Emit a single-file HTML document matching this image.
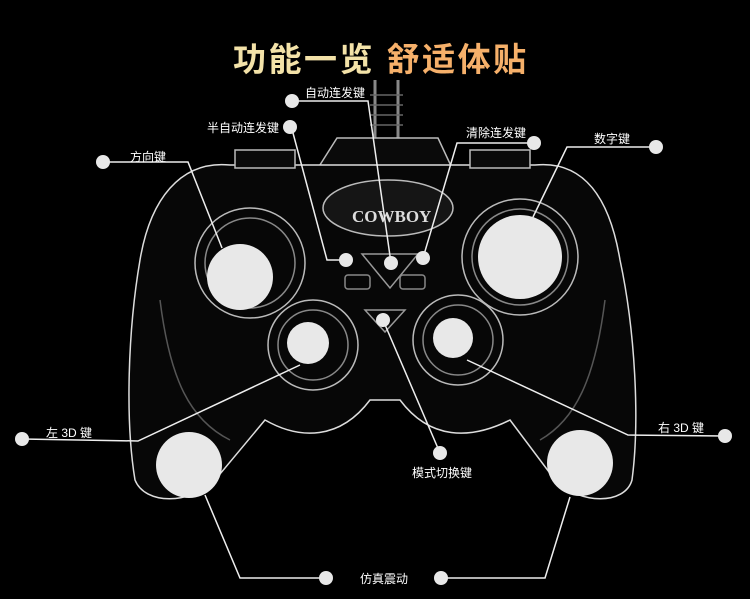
<!DOCTYPE html>
<html><head><meta charset="utf-8"><style>
html,body{margin:0;padding:0;background:#000;}
body{width:750px;height:599px;overflow:hidden;position:relative;font-family:"Liberation Sans","Noto Sans CJK SC",sans-serif;}
.t{position:absolute;left:233px;top:33px;font-size:33px;font-weight:bold;letter-spacing:2.5px;white-space:nowrap;}
.a{color:#f3e2a8}.b{color:#f6b06a}
.l{position:absolute;color:#fff;font-size:12px;white-space:nowrap;}
</style></head><body>
<svg width="750" height="599" style="position:absolute;left:0;top:0">
<g fill="none" stroke="#bbb" stroke-width="1.5">
<path d="M375 80 L375 140 M398 80 L398 140" stroke="#888" stroke-width="3"/>
<path d="M370 95 h33 M370 105 h33 M370 115 h33 M370 125 h33" stroke="#666"/>
<path d="M318 168 L337 138 L438 138 L452 168 Z" fill="#0a0a0a"/>
<path d="M230 165 C180 160 150 200 140 260 C128 330 125 420 135 480 C145 505 190 505 215 480 L265 420 C300 440 340 440 370 400 L400 400 C430 440 470 440 510 420 L555 480 C580 505 625 505 632 480 C640 420 635 330 620 260 C610 200 585 160 535 165 Z" fill="#070707" stroke="#ddd"/>
<path d="M235 150 h60 v18 h-60 z M470 150 h60 v18 h-60 z" fill="#0a0a0a"/>
<path d="M160 300 C170 380 190 420 230 440" stroke="#555"/>
<path d="M605 300 C595 380 575 420 540 440" stroke="#555"/>
<ellipse cx="388" cy="208" rx="65" ry="28" fill="#151515"/>
<text x="352" y="222" fill="#ddd" stroke="none" font-size="17" font-weight="bold" font-family="Liberation Serif">COWBOY</text>
<circle cx="250" cy="263" r="55"/><circle cx="250" cy="263" r="45" stroke="#888"/>
<circle cx="520" cy="257" r="58"/><circle cx="520" cy="257" r="48" stroke="#888"/>
<circle cx="313" cy="345" r="45"/><circle cx="313" cy="345" r="35" stroke="#888"/>
<circle cx="458" cy="340" r="45"/><circle cx="458" cy="340" r="35" stroke="#888"/>
<path d="M362 254 L418 254 L390 288 Z" stroke="#999"/>
<path d="M365 310 h40 l-20 22 z" stroke="#999"/>
<rect x="345" y="275" width="25" height="14" rx="3" stroke="#888"/>
<rect x="400" y="275" width="25" height="14" rx="3" stroke="#888"/>
</g>
<g stroke="#eee" stroke-width="1.5" fill="none">
<polyline points="292,101 368,101 391,263"/>
<polyline points="293,133 327,260 346,260"/>
<polyline points="534,143 457,143 423,258"/>
<polyline points="656,147 567,147 533,217"/>
<polyline points="103,162 188,162 222,248"/>
<polyline points="22,439 138,441 300,365"/>
<polyline points="725,436 628,435 467,360"/>
<polyline points="383,320 440,453"/>
<polyline points="326,578 240,578 205,495"/>
<polyline points="441,578 545,578 570,497"/>
</g>
<g fill="#e8e8e8">
<circle cx="292" cy="101" r="7"/><circle cx="290" cy="127" r="7"/><circle cx="534" cy="143" r="7"/>
<circle cx="656" cy="147" r="7"/><circle cx="103" cy="162" r="7"/><circle cx="22" cy="439" r="7"/>
<circle cx="725" cy="436" r="7"/><circle cx="440" cy="453" r="7"/><circle cx="326" cy="578" r="7"/>
<circle cx="441" cy="578" r="7"/>
<circle cx="346" cy="260" r="7"/><circle cx="391" cy="263" r="7"/><circle cx="423" cy="258" r="7"/>
<circle cx="383" cy="320" r="7"/>
<circle cx="240" cy="277" r="33"/><circle cx="520" cy="257" r="42"/>
<circle cx="308" cy="343" r="21"/><circle cx="453" cy="338" r="20"/>
<circle cx="189" cy="465" r="33"/><circle cx="580" cy="463" r="33"/>
</g>
</svg>
<div class="t"><span class="a">功能一览</span> <span class="b">舒适体贴</span></div>
<div class="l" style="left:305px;top:84px">自动连发键</div>
<div class="l" style="left:207px;top:119px">半自动连发键</div>
<div class="l" style="left:466px;top:124px">清除连发键</div>
<div class="l" style="left:594px;top:130px">数字键</div>
<div class="l" style="left:130px;top:148px">方向键</div>
<div class="l" style="left:46px;top:424px">左 3D 键</div>
<div class="l" style="left:658px;top:419px">右 3D 键</div>
<div class="l" style="left:412px;top:464px">模式切换键</div>
<div class="l" style="left:360px;top:570px">仿真震动</div>
</body></html>
